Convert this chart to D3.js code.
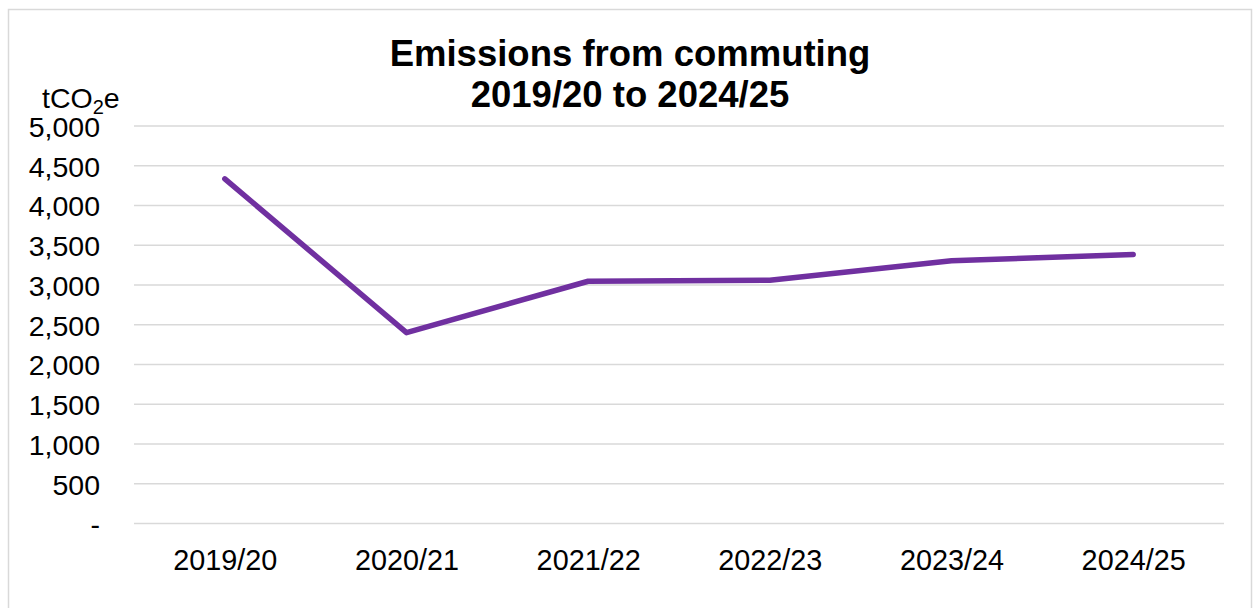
<!DOCTYPE html>
<html><head><meta charset="utf-8">
<script src="https://cdn.jsdelivr.net/npm/d3@7"></script>
<style>
html,body{margin:0;padding:0;background:#fff;}
text{font-family:"Liberation Sans",Arial,sans-serif;fill:#000;}
</style></head>
<body>
<svg id="chart" width="1253" height="608"></svg>
<script>
const categories = ["2019/20","2020/21","2021/22","2022/23","2023/24","2024/25"];
const emissions = [4335, 2400, 3047, 3059, 3305, 3385];
const yTicks = [0,500,1000,1500,2000,2500,3000,3500,4000,4500,5000];
const titleLines = ["Emissions from commuting","2019/20 to 2024/25"];

(function(){
const svg = d3.select("#chart");
svg.append("rect").attr("x",8.5).attr("y",9.5).attr("width",1243).attr("height",620)
  .attr("fill","#fff").attr("stroke","#d9d9d9").attr("stroke-width",1.5);

const pL=134, pR=1224, pT=126, pB=523.5;
const x = d3.scalePoint().domain(categories).range([pL,pR]).padding(0.5);
const y = d3.scaleLinear().domain([0,5000]).range([pB,pT]);

const fmt = d => d===0 ? "-" : d3.format(",")(d);
const yAxis = d3.axisLeft(y).tickValues(yTicks).tickFormat(fmt).tickSize(0).tickPadding(0);
const gy = svg.append("g").attr("transform",`translate(100,0)`).call(yAxis);
gy.select(".domain").remove();
gy.selectAll("text").attr("font-size",28.5).attr("font-family","Liberation Sans, Arial, sans-serif").attr("fill","#000").attr("dy","0.36em");

svg.append("g").selectAll("line").data(yTicks).join("line")
  .attr("x1",pL).attr("x2",pR).attr("y1",d=>y(d)).attr("y2",d=>y(d))
  .attr("stroke","#d9d9d9").attr("stroke-width",1.5);

const xAxis = d3.axisBottom(x).tickSize(0).tickPadding(0);
const gx = svg.append("g").attr("transform",`translate(0,${pB})`).call(xAxis);
gx.select(".domain").remove();
gx.selectAll("text").attr("font-size",28.8).attr("font-family","Liberation Sans, Arial, sans-serif").attr("fill","#000").attr("dy",null).attr("y",46);

const line = d3.line().x((d,i)=>x(categories[i])).y(d=>y(d));
svg.append("path").datum(emissions).attr("d",line).attr("fill","none")
  .attr("stroke","#7030a0").attr("stroke-width",5.5).attr("stroke-linecap","round").attr("stroke-linejoin","round");

const t = svg.append("text").attr("text-anchor","middle").attr("font-weight","bold").attr("font-size",36.5);
titleLines.forEach((s,i)=>t.append("tspan").attr("x",630).attr("y",66+i*41).text(s));

const u = svg.append("text").attr("x",42).attr("y",108).attr("font-size",28.5);
u.append("tspan").text("tCO");
u.append("tspan").attr("font-size",20).attr("dy",6).text("2");
u.append("tspan").attr("dy",-6).text("e");
})();
</script>
</body></html>
